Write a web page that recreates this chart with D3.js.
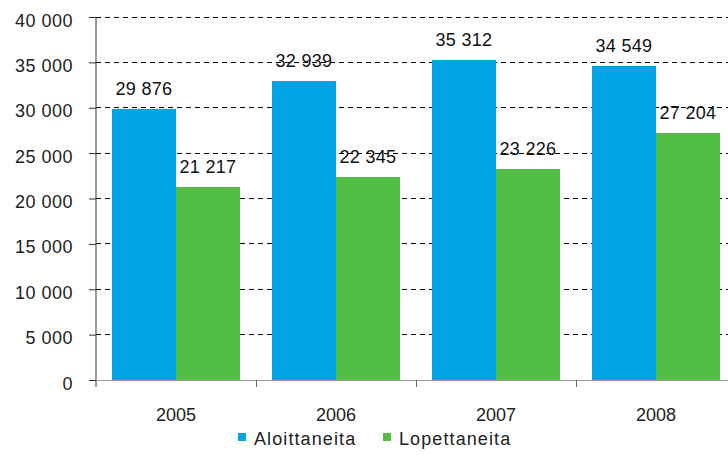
<!DOCTYPE html>
<html><head><meta charset="utf-8">
<script src="https://cdn.jsdelivr.net/npm/d3@7"></script>
<style>body{margin:0;background:#fff}svg{display:block;font-family:"Liberation Sans",Arial,sans-serif}</style>
</head><body><svg id="c" width="728" height="455"></svg>
<script>
const years = ["2005","2006","2007","2008"];
const seriesNames = ["Aloittaneita","Lopettaneita"];
const aloittaneita = [29876, 32939, 35312, 34549];
const lopettaneita = [21217, 22345, 23226, 27204];
const yTicks = [0,5000,10000,15000,20000,25000,30000,35000,40000];
const colors = ["#00A3E4","#52BF44"];

const svg = d3.select("#c");
const pLeft = 96, pRight = 736, pTop = 17, pBottom = 380;
const x = d3.scaleBand().domain(years).range([pLeft, pRight]).paddingInner(0).paddingOuter(0);
const xs = d3.scaleBand().domain(seriesNames).range([0, x.bandwidth()]).paddingInner(0).paddingOuter(0.25);
const y = d3.scaleLinear().domain([0, 40000]).range([pBottom, pTop]);
const fmt = v => d3.format(",")(v).replace(/,/g, " ");
const FS = 18;

// gridlines
svg.append("g").selectAll("line").data(yTicks.filter(d => d > 0)).join("line")
  .attr("x1", pLeft).attr("x2", 728).attr("y1", d => y(d)).attr("y2", d => y(d))
  .attr("stroke", "#000").attr("stroke-width", 1).attr("stroke-dasharray", "5,4")
  .attr("shape-rendering", "crispEdges");

const data = years.map((yr, i) => ({yr, vals: [aloittaneita[i], lopettaneita[i]]}));
const g = svg.append("g").selectAll("g").data(data).join("g")
  .attr("transform", d => `translate(${x(d.yr)},0)`);
g.selectAll("rect").data(d => d.vals.map((v, j) => ({v, s: seriesNames[j], j}))).join("rect")
  .attr("x", d => xs(d.s)).attr("width", xs.bandwidth())
  .attr("y", d => y(d.v)).attr("height", d => y(0) - y(d.v))
  .attr("fill", d => colors[d.j]).attr("shape-rendering", "crispEdges");
g.selectAll("text").data(d => d.vals.map((v, j) => ({v, s: seriesNames[j]}))).join("text")
  .attr("x", d => xs(d.s) + xs.bandwidth() / 2).attr("y", d => y(d.v) - 14)
  .attr("text-anchor", "middle").attr("font-size", FS).attr("letter-spacing", 0.3).attr("fill", "#111")
  .text(d => fmt(d.v));

// y axis
const ya = d3.axisLeft(y).tickValues(yTicks).tickSize(7).tickPadding(16).tickFormat(fmt);
const yg = svg.append("g").attr("transform", `translate(${pLeft},0)`).call(ya);
yg.select(".domain").attr("d", `M0,${pTop}V${pBottom + 7}`).attr("stroke", "#333");
yg.selectAll(".tick line").attr("stroke", "#333");
yg.selectAll(".tick text").attr("font-size", FS).attr("letter-spacing", 0.5).attr("fill", "#222")
  .attr("font-family", "Liberation Sans, Arial, sans-serif").attr("dy", "0.5em");

// x axis
svg.append("line").attr("x1", pLeft).attr("x2", 728).attr("y1", pBottom + 0.5).attr("y2", pBottom + 0.5).attr("stroke", "#999");
svg.append("g").selectAll("line").data(years.slice(1)).join("line")
  .attr("x1", d => x(d) + 0.5).attr("x2", d => x(d) + 0.5).attr("y1", pBottom).attr("y2", pBottom + 7).attr("stroke", "#666");
svg.append("g").selectAll("text").data(years).join("text")
  .attr("x", d => x(d) + x.bandwidth() / 2).attr("y", 421)
  .attr("text-anchor", "middle").attr("font-size", FS).attr("fill", "#222").text(d => d);

// legend
const leg = svg.append("g").selectAll("g").data(seriesNames).join("g")
  .attr("transform", (d, i) => `translate(${i === 0 ? 238 : 383},0)`);
leg.append("rect").attr("x", 0).attr("y", 433).attr("width", 8).attr("height", 8).attr("fill", (d, i) => colors[i]);
leg.append("text").attr("x", 16).attr("y", 445).attr("font-size", FS).attr("fill", "#222").attr("letter-spacing", 1.1).text(d => d);
</script></body></html>
